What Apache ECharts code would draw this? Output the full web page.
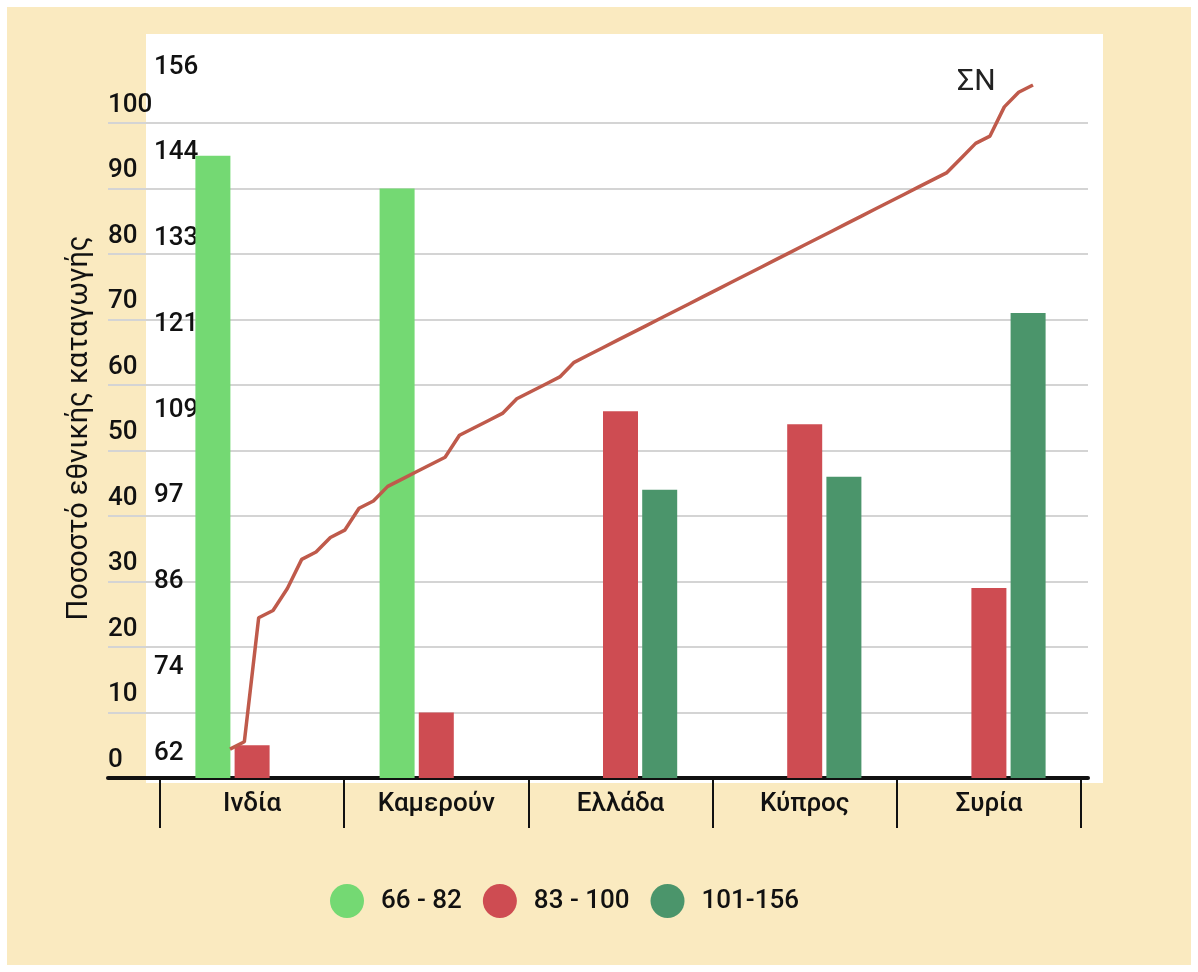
<!DOCTYPE html>
<html>
<head>
<meta charset="utf-8">
<script src="https://cdn.jsdelivr.net/npm/echarts@6/dist/echarts.min.js"></script>
<style>
html,body{margin:0;padding:0;background:#fff;}
#chart{width:1198px;height:972px;}
</style>
</head>
<body>
<div id="chart"></div>
<script>
// data
const countries=['Ινδία','Καμερούν','Ελλάδα','Κύπρος','Συρία']
const seriesNames=['66 - 82','83 - 100','101-156']
const low=[95,90,null,null,null]
const mid=[5,10,56,54,29]
const high=[null,null,44,46,71]
// cumulative line (ΣΝ), one point per step
const sumN=[65,66,83,84,87,91,92,94,95,98,99,101,102,103,104,105,108,109,110,111,113,114,115,116,118,119,120,121,122,123,124,125,126,127,128,129,130,131,132,133,134,135,136,137,138,139,140,141,142,143,144,146,148,149,153,155,156]
const leftTicks=[0,10,20,30,40,50,60,70,80,90,100]
const rightTicks=[62,74,86,97,109,121,133,144,156]

const colors=['#74d973','#ce4c52','#4b956b']
const numFont={fontFamily:'Roboto',fontSize:26,fontWeight:500,color:'#111'}

const chart=echarts.init(document.getElementById('chart'))

const option={
  backgroundColor:'#fff',
  animation:false,
  color:colors,
  graphic:[
    {type:'rect',z:-10,shape:{x:7,y:7,width:1184,height:958},style:{fill:'#faeac0'}},
    {type:'rect',z:-9,shape:{x:146,y:34,width:957,height:749},style:{fill:'#fff'}}
  ],
  legend:{
    data:seriesNames,
    left:325,
    top:879,
    icon:'circle',
    itemWidth:34,
    itemHeight:34,
    itemGap:21,
    textStyle:{fontFamily:'Roboto',fontSize:26,fontWeight:500,color:'#111',padding:[0,0,0,12]}
  },
  grid:[
    // bars
    {left:160,right:117,top:123,bottom:194,outerBoundsMode:'none'},
    // gridlines + base line
    {left:108,right:110,top:123,bottom:194,outerBoundsMode:'none'},
    // ΣΝ line
    {left:230,right:165,top:85,bottom:201,outerBoundsMode:'none'}
  ],
  xAxis:[
    {
      type:'category',gridIndex:0,data:countries,
      axisLine:{show:false},
      axisTick:{show:true,length:50,lineStyle:{color:'#111',width:2}},
      axisLabel:Object.assign({margin:13},numFont)
    },
    {
      type:'value',gridIndex:1,min:0,max:1,
      axisLine:{show:true,lineStyle:{color:'#111',width:4}},
      axisTick:{show:false},axisLabel:{show:false},splitLine:{show:false}
    },
    {
      type:'category',gridIndex:2,boundaryGap:false,
      data:sumN.map((v,i)=>String(i+1)),
      show:false
    }
  ],
  yAxis:[
    {
      type:'value',gridIndex:0,min:0,max:100,interval:10,position:'left',
      axisLine:{show:false},axisTick:{show:false},splitLine:{show:false},
      axisLabel:Object.assign({align:'left',margin:52,verticalAlign:'bottom',padding:[0,0,5,0],
        formatter:(v)=>leftTicks.indexOf(v)>=0?String(v):''},numFont)
    },
    {
      type:'value',gridIndex:1,min:0,max:100,interval:10,position:'left',
      axisLine:{show:false},axisTick:{show:false},axisLabel:{show:false},
      splitLine:{show:true,lineStyle:{color:'#d4d4d4',width:2}}
    },
    {
      type:'value',gridIndex:2,min:62,max:156,show:false,position:'left'
    },
    {
      type:'value',gridIndex:2,min:0,max:8,interval:1,position:'left',
      name:'Ποσοστό εθνικής καταγωγής',
      nameLocation:'middle',
      nameGap:136,
      nameTextStyle:{fontFamily:'Roboto',fontSize:29,color:'#111'},
      axisLine:{show:false},axisTick:{show:false},splitLine:{show:false},
      axisLabel:Object.assign({align:'left',margin:76,verticalAlign:'bottom',padding:[0,0,5,0],
        formatter:(v)=>rightTicks[v]!==undefined?String(rightTicks[v]):''},numFont)
    }
  ],
  series:[
    {name:seriesNames[0],type:'bar',xAxisIndex:0,yAxisIndex:0,data:low,barWidth:35,barGap:'12%'},
    {name:seriesNames[1],type:'bar',xAxisIndex:0,yAxisIndex:0,data:mid,barWidth:35,barGap:'12%'},
    {name:seriesNames[2],type:'bar',xAxisIndex:0,yAxisIndex:0,data:high,barWidth:35,barGap:'12%'},
    {
      name:'ΣΝ',type:'line',xAxisIndex:2,yAxisIndex:2,data:sumN,
      symbol:'none',
      lineStyle:{color:'#bf5a4b',width:3.5},
      endLabel:{show:true,formatter:'ΣΝ',offset:[-84,-3],fontFamily:'Roboto',fontSize:30,color:'#222'},
      z:5
    }
  ]
}

chart.setOption(option)
</script>
</body>
</html>
